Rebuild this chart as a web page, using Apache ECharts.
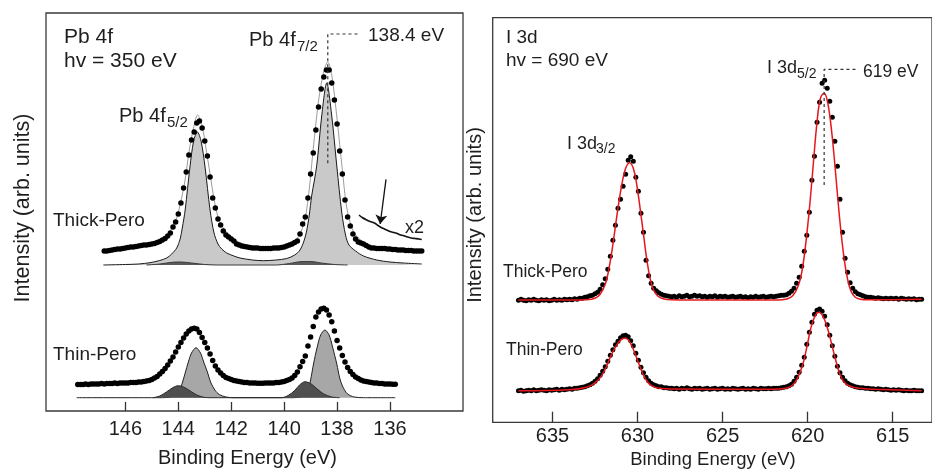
<!DOCTYPE html>
<html>
<head>
<meta charset="utf-8">
<script src="https://cdn.jsdelivr.net/npm/echarts@6/dist/echarts.min.js"></script>
<style>
  html, body { margin: 0; padding: 0; background: #fff; }
  #chart { width: 932px; height: 470px; }
</style>
</head>
<body>
<div id="chart"></div>
<script>
// ---------- Pb 4f (hv = 350 eV) ----------
const pbTicks = [136, 138, 140, 142, 144, 146];

// measured points, 0.1 eV steps starting at the high binding-energy end
const pbThickStart = 146.8;
const pbThickDots = [
  160, 160, 160.5, 161, 161.5, 162, 162, 162.5, 163, 163.5,
  164, 164, 164.5, 165, 165.5, 166, 166, 166.5, 167, 167.5,
  168.5, 169.5, 171, 172.5, 175, 178, 184, 189, 197, 208,
  223, 239, 256, 271, 279, 288, 290, 283, 270, 255,
  234, 213, 203, 192, 186, 180, 176, 174, 172, 170,
  167, 166, 165, 164.5, 164, 163.5, 163, 163, 163, 162.5,
  162.5, 162.5, 162.5, 162.5, 163, 163, 163, 163.5, 164, 165,
  166, 167, 168.5, 170, 177, 187, 194, 213, 237, 258,
  281, 304, 322, 334, 341, 341, 328, 311, 287, 260,
  237, 211, 194, 185, 177, 172, 169, 168, 167, 165.5,
  164, 163, 163, 162.5, 162.5, 162.5, 162.5, 162, 162, 161.5,
  161.5, 161, 161, 161, 160.5, 160.5, 160.5, 160, 160, 160,
  160
];
const pbThinStart = 147.8;
const pbThinDots = [
  26.5, 26.5, 26.5, 27, 26.5, 27, 27, 27, 27, 27.5,
  27, 27.5, 27.5, 27.5, 28, 27.5, 28, 28, 28, 28,
  28.5, 28.5, 28.5, 29, 29, 29.5, 30, 30.5, 31.5, 33,
  34.5, 37, 39.5, 42.5, 46, 50, 54, 59, 64, 68.5,
  73, 77, 80, 82, 82.7, 82, 78.5, 73.5, 68.5, 63,
  57, 50.5, 45, 41, 38, 35.5, 33.5, 32.5, 31.5, 30.5,
  30, 29.5, 29, 28.5, 28.5, 28, 28, 28, 27.7, 27.7,
  27.7, 28, 28, 28, 28, 28.5, 28.5, 29, 29.5, 30.5,
  31.5, 33, 35.5, 39, 44.3, 49.5, 55, 65, 74, 84.5,
  94, 99, 102, 102.7, 101, 96, 89.3, 80, 70.5, 63,
  55.5, 49, 43.5, 39.5, 36.5, 34, 32.5, 31, 30, 29.5,
  29, 28.5, 28, 28, 27.5, 27.5, 27, 27, 27, 26.7,
  26.7
];

// fitted envelope of the thick film
const pbThickFit = [
  [146.83, 161], [146.0, 164.5], [145.5, 166.5], [145.0, 168.5], [144.6, 172.5],
  [144.4, 176.5], [144.2, 185], [144.05, 194], [143.9, 210], [143.75, 230],
  [143.6, 258], [143.45, 280], [143.27, 296], [143.1, 285], [142.95, 262],
  [142.8, 237], [142.65, 212], [142.5, 194], [142.35, 185], [142.15, 178],
  [141.9, 172], [141.6, 167.5], [141.2, 165], [140.7, 164], [140.2, 165],
  [139.9, 166.5], [139.7, 169], [139.5, 173], [139.35, 180], [139.2, 193],
  [139.05, 222], [138.9, 262], [138.7, 310], [138.5, 340], [138.35, 349],
  [138.2, 336], [138.0, 292], [137.8, 241], [137.65, 206], [137.5, 188],
  [137.35, 178], [137.15, 172], [136.9, 167], [136.5, 164], [136.0, 163],
  [135.4, 162], [134.8, 161.5]
];
// main spin-orbit components of the thick film (background removed)
const pbThickMain = [
  [146.83, 146], [146.0, 146.5], [145.5, 147], [145.07, 148.3], [144.7, 150.5],
  [144.44, 153], [144.25, 157], [144.06, 163], [143.93, 172], [143.85, 183],
  [143.74, 201], [143.56, 244], [143.42, 270], [143.28, 279], [143.14, 270],
  [142.99, 244], [142.8, 201], [142.65, 178], [142.5, 167], [142.36, 162],
  [142.17, 158], [141.9, 155], [141.67, 153], [141.2, 151], [140.79, 150.3],
  [140.3, 151], [139.9, 152.5], [139.6, 156], [139.4, 161], [139.25, 170],
  [139.15, 180], [139.05, 196], [138.96, 215], [138.77, 245], [138.58, 295],
  [138.39, 328], [138.2, 295], [138.01, 245], [137.82, 198], [137.68, 176],
  [137.55, 166], [137.3, 160], [137.0, 155], [136.5, 151], [136.0, 149],
  [135.5, 148], [134.8, 147]
];
// weak high-energy components of the thick film
const pbThickMinor = [
  [145.2, 146], [144.7, 147], [144.2, 148.8], [143.9, 149], [143.5, 148],
  [143.0, 146.5], [142.5, 146], [140.3, 146], [139.8, 147.5], [139.3, 149.5],
  [139.0, 149.5], [138.6, 148], [138.1, 146.5], [137.6, 146]
];
// main and minor components of the thin film
const pbThinMain = [
  [147.84, 13.3], [144.6, 13.3], [144.3, 14], [144.1, 16], [143.95, 21],
  [143.85, 28], [143.74, 38], [143.62, 49], [143.5, 58], [143.33, 63.3],
  [143.16, 58], [143.04, 49], [142.9, 39], [142.78, 29], [142.62, 21],
  [142.45, 16.5], [142.2, 14], [141.9, 13.3], [139.7, 13.3], [139.4, 14],
  [139.2, 16.5], [139.1, 21], [139.0, 31], [138.89, 47], [138.75, 64],
  [138.62, 76], [138.46, 81], [138.3, 76], [138.17, 64], [138.01, 47],
  [137.9, 33], [137.78, 24], [137.6, 17], [137.35, 14], [137.0, 13.3],
  [135.8, 13.3]
];
const pbThinMinor = [
  [144.95, 13.3], [144.7, 15], [144.45, 19], [144.2, 23.5], [144.0, 25.3],
  [143.8, 24], [143.55, 20], [143.3, 16], [143.05, 13.8], [142.8, 13.3],
  [140.1, 13.3], [139.85, 15.5], [139.6, 20.5], [139.4, 26.5], [139.21, 29.3],
  [139.0, 27.5], [138.75, 22], [138.5, 17], [138.2, 14], [137.9, 13.3]
];
// low-energy tail magnified two times
const pbTailX2 = [
  [137.17, 196], [137.05, 193.5], [136.88, 191], [136.75, 189.5], [136.57, 187.7],
  [136.45, 185.5], [136.38, 184.3], [136.25, 182.5], [136.12, 181], [136.0, 179.5],
  [135.85, 178.5], [135.75, 177.7], [135.6, 176], [135.5, 175.5], [135.37, 174.3],
  [135.2, 173], [135.05, 172.5], [134.9, 172], [134.8, 171.5]
];
const pbPeakMark = [[138.35, 247.7], [138.35, 377], [137.13, 377]];
const pbArrow = [[136.15, 231.7], [136.37, 187]];

// ---------- I 3d (hv = 690 eV) ----------
const iTicks = [615, 620, 625, 630, 635];
// measured points, 0.15 eV steps starting at 637 eV
const iStart = 637.0;
const iThickDots = [
  122, 123, 122, 121.5, 122.5, 122, 123, 122, 121.5, 122.5,
  122, 122.5, 121.5, 122, 123, 122, 122.5, 122, 123, 122.5,
  123, 122.5, 123.5, 123, 124, 124, 125, 125.5, 126.5, 127,
  128.5, 130, 133, 137.5, 143.5, 153, 166, 182, 197, 214,
  223, 236, 248, 262, 265.5, 261, 245, 231, 209, 190,
  162, 146.5, 139, 134, 131.5, 129.5, 128, 127, 126.5, 126,
  125.5, 126, 125, 126.5, 125.5, 126, 127, 125.5, 126, 127,
  126, 126.5, 125.5, 126, 125, 126, 125.5, 126.5, 125, 126,
  125.5, 126, 125, 125.5, 126, 125, 125.5, 126, 125, 125.5,
  124.5, 125.5, 125, 126, 125, 125.5, 126, 125, 125.5, 126,
  125.5, 126, 126.5, 127, 127, 127.5, 129, 131, 134, 139,
  145, 156, 171, 187, 210, 242, 266, 300, 320, 339,
  342, 334, 321, 305, 281, 256, 223, 190, 164, 150,
  139.5, 134, 130.5, 128.5, 127.5, 126.5, 125.5, 125, 125, 124.5,
  124, 124.5, 124, 123.5, 124, 123.5, 124, 123.5, 124, 123,
  124, 123.5, 123, 123.5, 123, 123.5, 122.5, 123, 123
];
const iThinDots = [
  31.5, 32, 31, 31.5, 32, 31.5, 32.5, 31.5, 32, 32.5,
  32, 31.5, 32.5, 32, 32.5, 33, 32, 33, 32.5, 33,
  33.5, 33, 34, 34, 34.5, 35, 35.5, 36.5, 37.5, 39,
  41, 43.5, 47, 51, 55.5, 61, 67, 72.5, 77.5, 81,
  84.5, 86.5, 87, 85.5, 81.5, 76.5, 69, 62, 55, 49.5,
  45, 41.5, 39, 37.5, 36.5, 35.5, 35.5, 34.5, 34.5, 34,
  34, 33.5, 34, 33, 34, 33.5, 34.5, 33.5, 33, 34,
  33.5, 34, 33, 33.5, 34, 33, 33.5, 34, 33, 33.5,
  34, 33, 33.5, 33, 34, 33.5, 33, 33.5, 34, 33,
  33.5, 33, 34, 33.5, 33, 34, 33.5, 33.5, 34, 33.5,
  34, 34, 34, 34.5, 35, 35.5, 36.5, 38, 41, 45,
  50, 57, 65, 78, 90, 100, 108, 112, 113.3, 111,
  106, 97.5, 87, 76.5, 66, 56, 49.5, 45, 41.5, 39,
  37.5, 36.5, 35.5, 35, 34.5, 34.5, 34, 34, 33.5, 33.5,
  33, 33.5, 33, 32.5, 33, 32.5, 32, 32.5, 32, 32.5,
  32, 31.5, 32, 31.5, 31.5, 32, 31.5, 31.5, 31.5
];
const iThickFit = [
  [637.0, 122.3], [634.0, 122.3], [633.0, 122.5], [632.5, 124], [632.2, 128],
  [631.9, 138], [631.7, 152], [631.5, 172], [631.3, 196], [631.1, 220],
  [630.9, 240], [630.7, 254], [630.47, 259.6], [630.25, 254], [630.05, 238],
  [629.85, 214], [629.65, 188], [629.45, 162], [629.25, 143], [629.05, 132],
  [628.8, 126], [628.5, 123.5], [628.0, 122.5], [627.0, 122.3], [622.0, 122.3],
  [621.5, 122.6], [621.0, 125], [620.7, 131], [620.45, 142], [620.25, 160],
  [620.05, 188], [619.85, 222], [619.65, 262], [619.45, 300], [619.25, 324],
  [619.03, 329], [618.85, 322], [618.65, 300], [618.45, 267], [618.25, 228],
  [618.05, 192], [617.85, 163], [617.65, 143], [617.45, 131], [617.2, 125],
  [616.9, 123], [616.5, 122.5], [613.3, 123]
];
const iThinFit = [
  [637.0, 31.5], [634.0, 32.5], [633.0, 35], [632.5, 39.5], [632.1, 47],
  [631.8, 57], [631.5, 69], [631.2, 78], [630.95, 83], [630.76, 84],
  [630.55, 82.5], [630.3, 75], [630.0, 62], [629.7, 49], [629.4, 40],
  [629.1, 36], [628.7, 34], [628.0, 33.3], [622.0, 33], [621.3, 34],
  [620.9, 37], [620.6, 44], [620.3, 57], [620.05, 75], [619.8, 95],
  [619.55, 107], [619.34, 110], [619.1, 106], [618.85, 95], [618.6, 79],
  [618.35, 62], [618.1, 48], [617.85, 40], [617.5, 36], [617.0, 34],
  [616.0, 33], [613.3, 31.5]
];
const iPeakMark = [[619.03, 237.3], [619.03, 353], [617.19, 353]];

// ---------- helpers ----------
function onGrid(start, step, values) {
  return values.map((v, i) => [+(start - i * step).toFixed(3), v]);
}
const FONT = '"Liberation Sans", Arial, Helvetica, sans-serif';
const INK = '#1e1e1e';

function label(text, x, y, size) {
  return {
    type: 'text', x: x, y: y, silent: true,
    style: { text: text, font: size + 'px ' + FONT, fill: INK, textAlign: 'left', textVerticalAlign: 'middle' }
  };
}
function centered(text, x, y, size, rot) {
  return {
    type: 'text', x: x, y: y, rotation: rot || 0, silent: true,
    style: { text: text, font: size + 'px ' + FONT, fill: INK, textAlign: 'center', textVerticalAlign: 'middle' }
  };
}

function dots(data, xi, size) {
  return {
    type: 'scatter', xAxisIndex: xi, yAxisIndex: xi, data: data,
    symbol: 'circle', symbolSize: size, itemStyle: { color: '#000', opacity: 1 }, z: 4, silent: true
  };
}
function curve(data, xi, color, width, extra) {
  return Object.assign({
    type: 'line', xAxisIndex: xi, yAxisIndex: xi, data: data, showSymbol: false,
    smooth: 0.3, lineStyle: { color: color, width: width }, silent: true, z: 3
  }, extra || {});
}

function xAxisFor(gridIndex, min, max, ticks, tickLen, margin) {
  return {
    gridIndex: gridIndex, type: 'value', min: min, max: max, inverse: true,
    axisLine: { show: false },
    splitLine: { show: false },
    axisTick: { show: true, inside: true, length: tickLen, customValues: ticks,
                lineStyle: { color: '#333', width: 1.3 } },
    axisLabel: { show: true, customValues: ticks, margin: margin, fontSize: 20,
                 fontFamily: FONT, color: INK }
  };
}

const chart = echarts.init(document.getElementById('chart'), null, { renderer: 'canvas' });

chart.setOption({
  animation: false,
  backgroundColor: '#fff',
  grid: [
    { left: 46, top: 13, width: 417, height: 398, show: true,
      borderColor: '#3a3a3a', borderWidth: 1.3, backgroundColor: 'transparent' },
    { left: 492.7, top: 17.7, width: 441, height: 404.6, show: true,
      borderColor: '#3a3a3a', borderWidth: 1.3, backgroundColor: 'transparent' }
  ],
  xAxis: [
    xAxisFor(0, 133.24, 149.0, pbTicks, 9, 8),
    xAxisFor(1, 612.69, 638.515, iTicks, 10.6, 4.5)
  ],
  yAxis: [
    { gridIndex: 0, type: 'value', min: 0, max: 398, show: false },
    { gridIndex: 1, type: 'value', min: 0, max: 404.6, show: false }
  ],
  series: [
    // Pb 4f, thick film
    curve(pbThickMain, 0, '#1a1a1a', 1,
      { areaStyle: { color: '#c9c9c9', opacity: 1, origin: 146 }, z: 1 }),
    curve(pbThickMinor, 0, '#3a3a3a', 1,
      { areaStyle: { color: '#5a5a5a', opacity: 1, origin: 146 }, z: 2 }),
    curve(pbThickFit, 0, '#9c9c9c', 1, { z: 3 }),
    dots(onGrid(pbThickStart, 0.1, pbThickDots), 0, 5.5),
    curve(pbTailX2, 0, '#111', 1.6, {
      smooth: 0.2, z: 4,
      markLine: {
        silent: true, animation: false, symbol: ['none', 'arrow'], symbolSize: 9,
        lineStyle: { color: '#111', width: 1.3, type: 'solid' }, label: { show: false },
        data: [[{ coord: pbArrow[0] }, { coord: pbArrow[1] }]]
      }
    }),
    // Pb 4f, thin film
    curve(pbThinMain, 0, '#222', 1,
      { areaStyle: { color: '#a7a7a7', opacity: 1, origin: 13.3 }, z: 1 }),
    curve(pbThinMinor, 0, '#2a2a2a', 1,
      { areaStyle: { color: '#4f4f4f', opacity: 1, origin: 13.3 }, z: 2 }),
    dots(onGrid(pbThinStart, 0.1, pbThinDots), 0, 5.5),
    curve(pbPeakMark, 0, '#333', 1.2, { smooth: false, lineStyle: { color: '#333', width: 1.2, type: [3, 3] }, z: 5 }),

    // I 3d
    dots(onGrid(iStart, 0.15, iThickDots), 1, 5),
    dots(onGrid(iStart, 0.15, iThinDots), 1, 5),
    curve(iThickFit, 1, '#e5171d', 1.5, { smooth: 0.4, z: 5 }),
    curve(iThinFit, 1, '#e5171d', 1.5, { smooth: 0.4, z: 5 }),
    curve(iPeakMark, 1, '#333', 1.2, { smooth: false, lineStyle: { color: '#333', width: 1.2, type: [3, 3] }, z: 6 })
  ],
  graphic: { elements: [
    // left panel
    label('Pb 4f', 64, 37, 21),
    label('hv = 350 eV', 64, 61, 21),
    label('Pb 4f', 249, 40, 20),
    label('7/2', 297, 47, 15),
    label('138.4 eV', 368, 36, 19),
    label('Pb 4f', 119, 116, 20),
    label('5/2', 167, 123, 15),
    label('Thick-Pero', 53, 221, 19),
    label('Thin-Pero', 53, 355, 19),
    label('x2', 405, 228, 18),
    centered('Intensity (arb. units)', 23, 208, 21.5, Math.PI / 2),
    centered('Binding Energy (eV)', 247.5, 458, 20),
    // right panel
    label('I 3d', 506, 38, 19),
    label('hv = 690 eV', 506, 61, 19),
    label('I 3d', 567, 144, 18),
    label('3/2', 596, 149, 14),
    label('I 3d', 767, 68, 18),
    label('5/2', 797, 74, 14),
    label('619 eV', 863, 72, 17.5),
    label('Thick-Pero', 503, 272, 17.5),
    label('Thin-Pero', 506, 350, 17.5),
    centered('Intensity (arb. units)', 475, 215, 20, Math.PI / 2),
    centered('Binding Energy (eV)', 713, 460, 18.5)
  ] }
});
</script>
</body>
</html>
